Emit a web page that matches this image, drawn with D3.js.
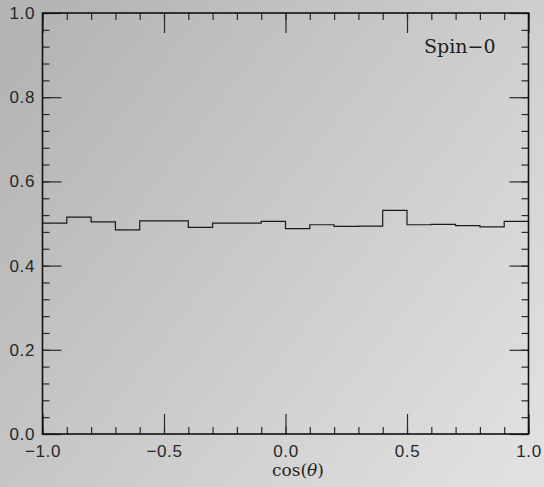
<!DOCTYPE html>
<html>
<head>
<meta charset="utf-8">
<script src="https://cdn.jsdelivr.net/npm/d3@7"></script>
<style>
  html, body { margin: 0; padding: 0; background: #c8c8c8; }
  svg { display: block; }
</style>
</head>
<body>
<script>
// Histogram of cos(theta), 20 bins over [-1, 1]
const binEdges = [-1.0, -0.9, -0.8, -0.7, -0.6, -0.5, -0.4, -0.3, -0.2, -0.1,
                  0.0, 0.1, 0.2, 0.3, 0.4, 0.5, 0.6, 0.7, 0.8, 0.9, 1.0];
const binValues = [0.501, 0.515, 0.504, 0.485, 0.506, 0.506, 0.491, 0.501, 0.501, 0.505,
                   0.488, 0.497, 0.493, 0.494, 0.531, 0.497, 0.498, 0.495, 0.492, 0.505];

const xMajorTicks = [-1.0, -0.5, 0.0, 0.5, 1.0];
const xMinorTicks = d3.range(-10, 11).map(i => i / 10);
const yMajorTicks = [0.0, 0.2, 0.4, 0.6, 0.8, 1.0];
const yMinorTicks = d3.range(0, 26).map(i => i * 0.04);

const xLabel = "cos";
const legendText = "Spin\u22120";

const W = 544, H = 487;
const plotLeft = 42.5, plotRight = 528.5, plotTop = 13, plotBottom = 434;

const svg = d3.select("body").append("svg")
  .attr("width", W).attr("height", H);

// soft grey background gradient
const defs = svg.append("defs");
const grad = defs.append("linearGradient")
  .attr("id", "bg")
  .attr("x1", "0").attr("y1", "0.15")
  .attr("x2", "1").attr("y2", "0.85");
grad.append("stop").attr("offset", "0").attr("stop-color", "#b4b4b4");
grad.append("stop").attr("offset", "1").attr("stop-color", "#e0e0e0");
svg.append("rect").attr("width", W).attr("height", H).attr("fill", "url(#bg)");

const x = d3.scaleLinear().domain([-1, 1]).range([plotLeft, plotRight]);
const y = d3.scaleLinear().domain([0, 1]).range([plotBottom, plotTop]);

const tickFont = "'Liberation Sans', Arial, sans-serif";
const serifFont = "'DejaVu Serif', serif";
const fmt = d3.format(".1f");

function styleAxis(g) {
  g.select(".domain").remove();
  g.selectAll(".tick line").attr("stroke", "#2a2a2a").attr("stroke-width", 1.2);
  g.selectAll("text")
    .attr("fill", "#262626")
    .attr("font-family", tickFont)
    .attr("font-size", 17)
    .attr("letter-spacing", 0.6);
}

// bottom axis (labelled) + minor ticks
svg.append("g").attr("transform", `translate(0,${plotBottom})`)
  .call(d3.axisBottom(x).tickValues(xMajorTicks).tickSize(-20).tickPadding(11).tickFormat(fmt))
  .call(styleAxis);
svg.append("g").attr("transform", `translate(0,${plotBottom})`)
  .call(d3.axisBottom(x).tickValues(xMinorTicks).tickSize(-7).tickFormat(""))
  .call(styleAxis);

// top axis ticks
svg.append("g").attr("transform", `translate(0,${plotTop})`)
  .call(d3.axisTop(x).tickValues(xMajorTicks).tickSize(-20).tickFormat(""))
  .call(styleAxis);
svg.append("g").attr("transform", `translate(0,${plotTop})`)
  .call(d3.axisTop(x).tickValues(xMinorTicks).tickSize(-7).tickFormat(""))
  .call(styleAxis);

// left axis (labelled) + minor ticks
svg.append("g").attr("transform", `translate(${plotLeft},0)`)
  .call(d3.axisLeft(y).tickValues(yMajorTicks).tickSize(-19).tickPadding(7.5).tickFormat(fmt))
  .call(styleAxis);
svg.append("g").attr("transform", `translate(${plotLeft},0)`)
  .call(d3.axisLeft(y).tickValues(yMinorTicks).tickSize(-7).tickFormat(""))
  .call(styleAxis);

// right axis ticks
svg.append("g").attr("transform", `translate(${plotRight},0)`)
  .call(d3.axisRight(y).tickValues(yMajorTicks).tickSize(-19).tickFormat(""))
  .call(styleAxis);
svg.append("g").attr("transform", `translate(${plotRight},0)`)
  .call(d3.axisRight(y).tickValues(yMinorTicks).tickSize(-7).tickFormat(""))
  .call(styleAxis);

// histogram outline as a step line
const steps = [];
binValues.forEach((v, i) => {
  steps.push([binEdges[i], v]);
  steps.push([binEdges[i + 1], v]);
});
svg.append("path")
  .datum(steps)
  .attr("fill", "none")
  .attr("stroke", "#1a1a1a")
  .attr("stroke-width", 1.2)
  .attr("d", d3.line().x(d => x(d[0])).y(d => y(d[1])));

// frame
svg.append("rect")
  .attr("x", plotLeft).attr("y", plotTop)
  .attr("width", plotRight - plotLeft).attr("height", plotBottom - plotTop)
  .attr("fill", "none").attr("stroke", "#111").attr("stroke-width", 1.6);

// axis title
const xt = svg.append("text")
  .attr("x", 298).attr("y", 476)
  .attr("text-anchor", "middle")
  .attr("font-family", serifFont)
  .attr("font-size", 17)
  .attr("fill", "#1e1e1e");
xt.append("tspan").text(xLabel + "(");
xt.append("tspan").attr("font-style", "italic").text("\u03B8");
xt.append("tspan").text(")");

// legend label
svg.append("text")
  .attr("x", 424).attr("y", 53)
  .attr("font-family", serifFont)
  .attr("font-size", 19)
  .attr("fill", "#1e1e1e")
  .text(legendText);
</script>
</body>
</html>
